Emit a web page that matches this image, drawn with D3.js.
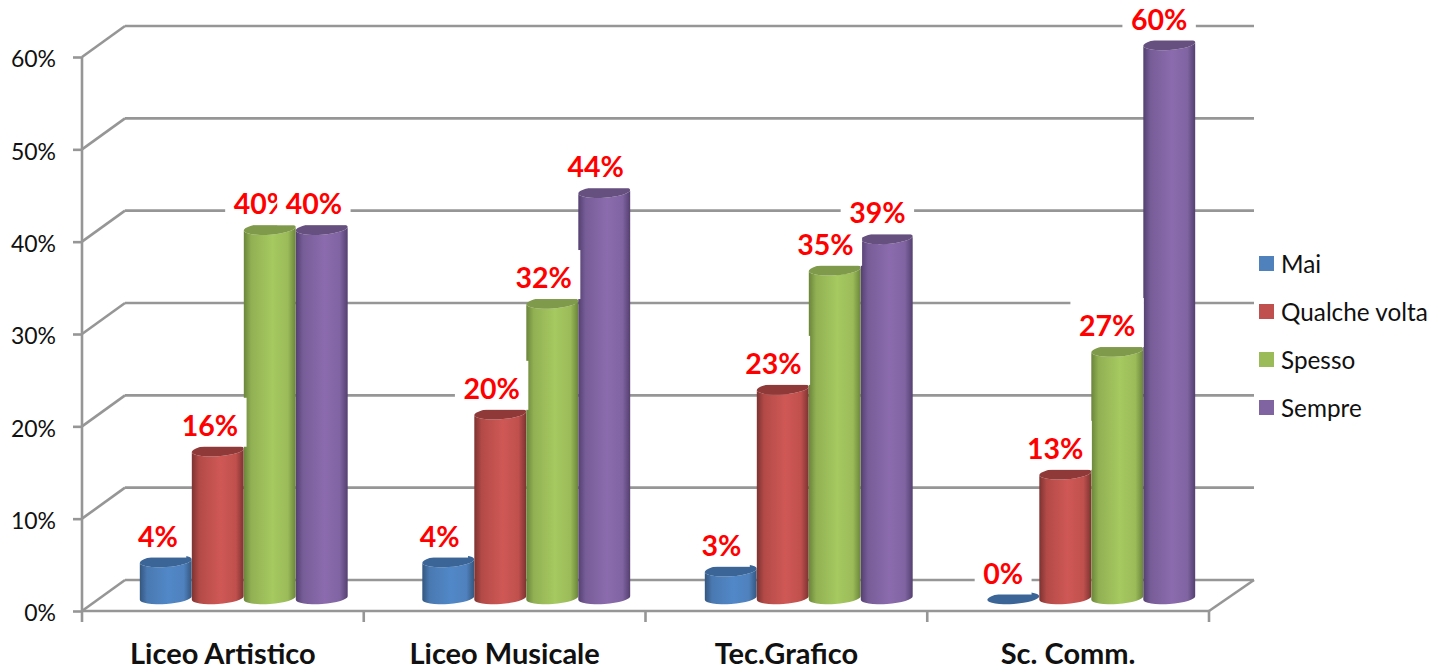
<!DOCTYPE html>
<html><head><meta charset="utf-8">
<script src="https://cdn.jsdelivr.net/npm/d3@7"></script>
<style>html,body{margin:0;padding:0;background:#fff}svg{display:block}text{font-family:Lato,"Open Sans",sans-serif}</style>
</head><body><svg id="c" width="1448" height="670"></svg>
<script>
const categories = ["Liceo Artistico","Liceo Musicale","Tec.Grafico","Sc. Comm."];
const seriesNames = ["Mai","Qualche volta","Spesso","Sempre"];
const mai = [4,4,3,0];
const qualcheVolta = [16,20,22.7,13.5];
const spesso = [40,32,35.6,26.8];
const sempre = [40,44,39,60];
const seriesValues = [mai,qualcheVolta,spesso,sempre];
const maiLabels = ["4%","4%","3%","0%"];
const qualcheLabels = ["16%","20%","23%","13%"];
const spessoLabels = ["40%","32%","35%","27%"];
const sempreLabels = ["40%","44%","39%","60%"];
const seriesLabels = [maiLabels,qualcheLabels,spessoLabels,sempreLabels];
const yTicks = [0,10,20,30,40,50,60];
const colors = ["#4f81bd","#c0504d","#9bbb59","#8064a2"];
const light = ["#5188c8","#cf5855","#a6c960","#8b6bad"];
const dark = ["#34577f","#7d3331","#6a853a","#544070"];
const capc = ["#3a6596","#8f3a38","#7f9a4a","#66507f"];

const svg = d3.select("#c");
const depthX = 43, depthY = 31;
const x0 = d3.scaleBand().domain(categories).range([82,1209]);
const xBars = d3.scaleBand().domain(categories).range([81,1211]);
const y = d3.scaleLinear().domain([0,60]).range([611,57]);
const x1 = d3.scaleBand().domain(seriesNames).range([-104,104]);
const rx = x1.bandwidth()/2, ry = 6, tilt = 4;
const dxT = rx*Math.cos(tilt*Math.PI/180), dyT = rx*Math.sin(tilt*Math.PI/180);
const barShift = depthX/2, barDrop = 13;

// gradients
const defs = svg.append("defs");
seriesNames.forEach((s,i)=>{
  const g = defs.append("linearGradient").attr("id","g"+i);
  [[0,dark[i]],[0.14,d3.interpolateRgb(dark[i],colors[i])(0.8)],[0.55,light[i]],[0.85,colors[i]],[1,dark[i]]]
    .forEach(([o,c])=>g.append("stop").attr("offset",o).attr("stop-color",c));
});

// walls and grid
const gridCol = "#969696";
const gridW = 2.6;
const grid = svg.append("g").attr("fill","none").attr("stroke",gridCol).attr("stroke-width",gridW);
yTicks.forEach(v=>{
  grid.append("line").attr("x1",82).attr("y1",y(v)).attr("x2",82+depthX).attr("y2",y(v)-depthY);
  grid.append("line").attr("x1",82+depthX).attr("y1",y(v)-depthY).attr("x2",1254).attr("y2",y(v)-depthY);
});
grid.append("line").attr("x1",1209).attr("y1",y(0)).attr("x2",1254).attr("y2",y(0)-depthY);

// axes
const axL = d3.axisLeft(y).tickValues(yTicks).tickFormat(d=>d+"%").tickSize(9).tickPadding(17);
const gL = svg.append("g").attr("transform","translate(82,0)").call(axL);
gL.selectAll("line,path").attr("stroke",gridCol).attr("stroke-width",gridW);
gL.select("path").attr("d",`M0,${y(60)}V${y(0)}`);
gL.selectAll(".tick line").attr("x2",-9);
gL.selectAll("text").attr("font-size",23).attr("fill","#111").attr("x",-26).attr("dy","0.42em");

const axB = d3.axisBottom(x0).tickSize(11).tickPadding(20);
const gB = svg.append("g").attr("transform",`translate(0,${y(0)})`).call(axB);
gB.select("path").attr("stroke",gridCol).attr("stroke-width",gridW).attr("d","M82,0H1209");
gB.selectAll("line").attr("stroke",gridCol).attr("stroke-width",gridW);
gB.selectAll(".tick").each(function(){
  d3.select(this).select("line").attr("x1",-x0.step()/2).attr("x2",-x0.step()/2);
});
gB.append("line").attr("x1",1209).attr("x2",1209).attr("y1",0).attr("y2",11).attr("stroke",gridCol).attr("stroke-width",gridW);
gB.selectAll("text").attr("font-size",29).attr("font-weight",700).attr("fill","#111").attr("y",32);

// bars
const barY = v => y(v)-barDrop;
const cxOf = (c,s) => xBars(c)+xBars.bandwidth()/2+barShift+x1(s)+rx;
const bars = svg.append("g");
seriesNames.forEach((s,si)=>{
  categories.forEach((c,ci)=>{
    const v = seriesValues[si][ci], cx = cxOf(c,s), yt = barY(v), yb = barY(0);
    const g = bars.append("g");
    if(v>0){
      g.append("path")
       .attr("d",`M${cx-dxT},${yt+dyT}L${cx-dxT},${yb+dyT}A${rx},${ry} ${-tilt} 0 0 ${cx+dxT},${yb-dyT}L${cx+dxT},${yt-dyT}A${rx},${ry} ${-tilt} 0 1 ${cx-dxT},${yt+dyT}Z`)
       .attr("fill",`url(#g${si})`);
    }
    g.append("ellipse").attr("cx",cx).attr("cy",yt).attr("rx",rx).attr("ry",ry)
     .attr("transform",`rotate(${-tilt} ${cx} ${yt})`).attr("fill",capc[si]);
  });
});

// data labels with white boxes sized to their text
const labels = svg.append("g");
seriesNames.forEach((s,si)=>{
  categories.forEach((c,ci)=>{
    const v = seriesValues[si][ci];
    const lx = x0(c)+x0.bandwidth()/2+barShift+x1(s)+rx-8.5, ly = y(v)-39.5;
    const r = labels.append("rect").attr("y",ly-26).attr("height",49).attr("fill","#fff");
    const t = labels.append("text").attr("x",lx).attr("y",ly+1).attr("text-anchor","middle").attr("dominant-baseline","central")
      .attr("font-size",28.5).attr("font-weight",700).attr("fill","#ff0000").text(seriesLabels[si][ci]);
    const w = t.node().getComputedTextLength()+17;
    r.attr("x",lx-w/2).attr("width",w);
  });
});

// legend
const leg = svg.append("g");
seriesNames.forEach((s,i)=>{
  const ly = 256+i*48;
  leg.append("rect").attr("x",1259).attr("y",ly).attr("width",15).attr("height",15).attr("fill",colors[i]);
  leg.append("text").attr("x",1281).attr("y",ly+7).attr("dominant-baseline","central")
    .attr("font-size",24.3).attr("fill","#111").text(s);
});
</script></body></html>
